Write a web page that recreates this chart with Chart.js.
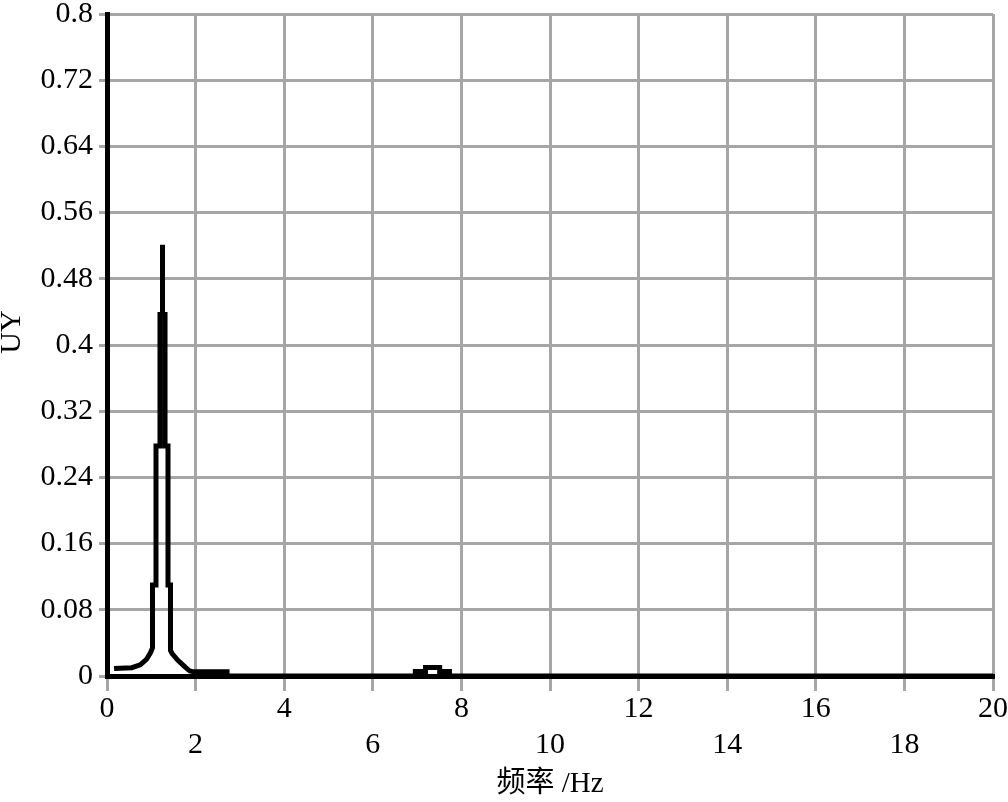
<!DOCTYPE html>
<html>
<head>
<meta charset="utf-8">
<script src="https://cdn.jsdelivr.net/npm/chart.js"></script>
<style>
  html, body { margin: 0; padding: 0; background: #ffffff; }
  #wrap { width: 1008px; height: 802px; }
</style>
</head>
<body>
<div id="wrap"><canvas id="c" width="1008" height="802"></canvas></div>
<script>
// Frequency (Hz) of each vertex of the response curve
const freqHz = [
  0.16, 0.56, 0.75, 0.89, 0.98, 1.027, 1.027, 1.106, 1.106, 1.196, 1.196,
  1.253, 1.253, 1.253, 1.310, 1.310, 1.377, 1.377, 1.433, 1.433,
  1.47, 1.60, 1.76, 1.87, 1.96, 2.71, 2.71,
  6.96, 6.96, 7.19, 7.19, 7.51, 7.51, 7.73, 7.73, 20
];
// UY amplitude at each vertex
const uyValues = [
  0.009, 0.010, 0.0135, 0.020, 0.028, 0.034, 0.110, 0.110, 0.278, 0.278, 0.437,
  0.437, 0.521, 0.437, 0.437, 0.278, 0.278, 0.110, 0.110, 0.031,
  0.027, 0.019, 0.011, 0.006, 0.005, 0.005, 0,
  0, 0.0054, 0.0054, 0.0103, 0.0103, 0.0054, 0.0054, 0, 0
];
const xTickValues = [0, 2, 4, 6, 8, 10, 12, 14, 16, 18, 20];
const xTickLabels = ['0', '2', '4', '6', '8', '10', '12', '14', '16', '18', '20'];
const yTickValues = [0, 0.08, 0.16, 0.24, 0.32, 0.4, 0.48, 0.56, 0.64, 0.72, 0.8];
const yTickLabels = ['0', '0.08', '0.16', '0.24', '0.32', '0.4', '0.48', '0.56', '0.64', '0.72', '0.8'];
const xTitle = '频率 /Hz';
const yTitle = 'UY';

const points = freqHz.map((f, i) => ({ x: f, y: uyValues[i] }));
const serif = "'Liberation Serif', 'Times New Roman', 'Noto Sans CJK SC', serif";

const yTitlePlugin = {
  id: 'yTitle',
  afterDraw(chart) {
    const ctx = chart.ctx;
    ctx.save();
    ctx.translate(12, 332);
    ctx.rotate(-Math.PI / 2);
    ctx.font = '30px ' + serif;
    ctx.fillStyle = '#000';
    ctx.textAlign = 'center';
    ctx.textBaseline = 'middle';
    ctx.fillText(yTitle, 0, 0);
    ctx.restore();
  }
};

new Chart(document.getElementById('c'), {
  type: 'line',
  data: {
    datasets: [{
      data: points,
      borderColor: '#000000',
      borderWidth: 5,
      pointRadius: 0,
      tension: 0,
      fill: false,
      borderJoinStyle: 'miter',
      borderCapStyle: 'butt'
    }]
  },
  options: {
    responsive: false,
    animation: false,
    devicePixelRatio: 1,
    layout: { padding: { left: 0, right: 15, top: 14, bottom: 0 } },
    plugins: { legend: { display: false }, tooltip: { enabled: false } },
    scales: {
      x: {
        type: 'linear',
        min: 0, max: 20,
        afterBuildTicks(scale) { scale.ticks = xTickValues.map(v => ({ value: v })); },
        afterFit(scale) {
          scale.height = 126;
          scale.paddingLeft = 0; scale.paddingRight = 0;
          scale.paddingTop = 0; scale.paddingBottom = 0;
        },
        grid: { color: '#a6a6a6', lineWidth: 3, tickLength: 15, drawTicks: true },
        border: { color: '#000000', width: 5 },
        ticks: {
          autoSkip: false, maxRotation: 0, minRotation: 0, padding: 0,
          color: '#000000',
          font: { family: serif, size: 30, lineHeight: 1.2 },
          callback(value, index) {
            const lbl = xTickLabels[index];
            return index % 2 === 0 ? lbl : ['', lbl];
          }
        },
        title: {
          display: true, text: xTitle, color: '#000000',
          font: { family: serif, size: 29, lineHeight: 1.2 },
          padding: { top: 0, bottom: 0 }
        }
      },
      y: {
        type: 'linear',
        min: 0, max: 0.8,
        afterBuildTicks(scale) { scale.ticks = yTickValues.map(v => ({ value: v })); },
        afterFit(scale) {
          scale.width = 107;
          scale.paddingTop = 0; scale.paddingBottom = 0;
          scale.paddingLeft = 0; scale.paddingRight = 0;
        },
        grid: { color: '#a6a6a6', lineWidth: 3, tickLength: 8, drawTicks: true },
        border: { color: '#000000', width: 5 },
        ticks: {
          autoSkip: false, padding: 6, color: '#000000',
          font: { family: serif, size: 30 },
          callback(value, index) { return yTickLabels[index]; }
        }
      }
    }
  },
  plugins: [yTitlePlugin]
});
</script>
</body>
</html>
